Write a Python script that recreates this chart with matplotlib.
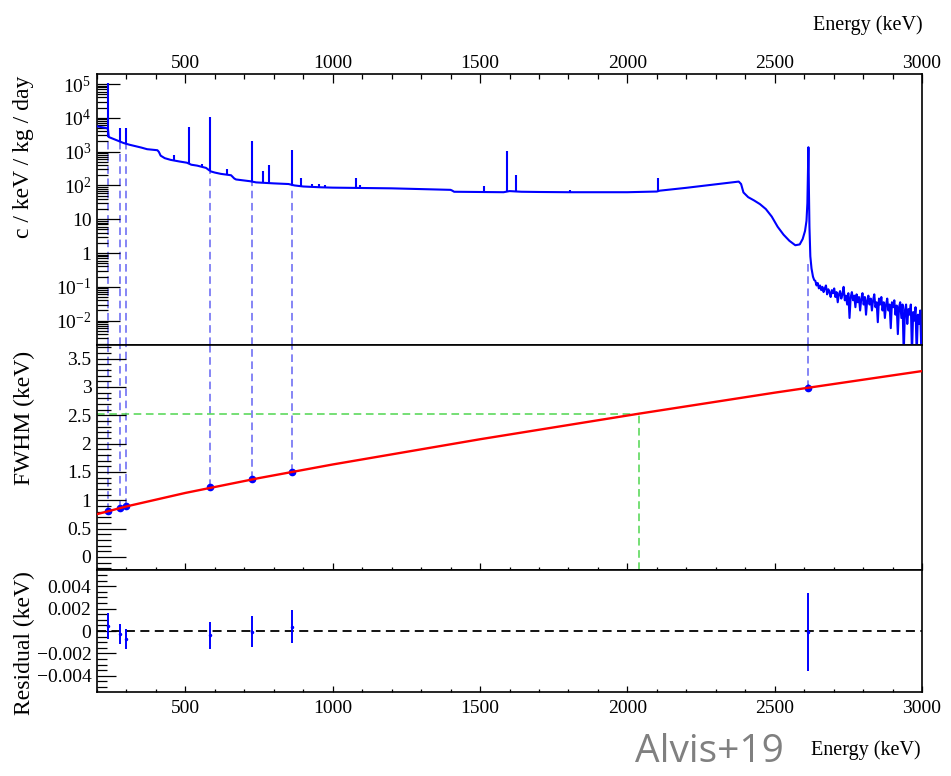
import numpy as np
import matplotlib
matplotlib.use("Agg")
import matplotlib.pyplot as plt
from matplotlib.ticker import (FixedLocator, FixedFormatter, MultipleLocator,
                               LogLocator, NullFormatter)

plt.rcParams['font.family'] = ['Liberation Serif', 'DejaVu Serif']
plt.rcParams['mathtext.fontset'] = 'custom'
plt.rcParams['mathtext.rm'] = 'Liberation Serif'
plt.rcParams['mathtext.it'] = 'Liberation Serif:italic'
plt.rcParams['mathtext.bf'] = 'Liberation Serif:bold'

# ---------------- spectrum (c / keV / kg / day) ----------------
cont_energy = [200, 215, 230, 237, 240, 260, 275, 290, 310, 330, 350, 370, 390,
               405, 410, 416, 430, 450, 480, 505, 520, 540, 570, 586, 600, 620,
               655, 666, 672, 700, 720, 740, 800, 850, 870, 900, 960, 1000,
               1050, 1100, 1200, 1300, 1400, 1406, 1412, 1500, 1580, 1600,
               1640, 1700, 1800, 2000, 2100, 2110, 2200, 2300, 2360, 2378,
               2386, 2394, 2410, 2430, 2450, 2470, 2490, 2510, 2530, 2550,
               2570, 2585, 2595, 2603, 2608, 2611, 2613, 2614.5, 2616, 2618,
               2621, 2625]
cont_rate = [5600, 5300, 5000, 4800, 2700, 2300, 2050, 1800, 1600, 1450, 1320,
             1180, 1130, 1100, 980, 760, 640, 570, 510, 470, 410, 385, 330,
             260, 240, 220, 200, 160, 150, 140, 133, 123, 115, 110, 100, 93,
             88, 86, 85, 84, 82, 78, 74, 70, 65, 64, 63, 68, 65, 64, 63, 63,
             66, 70, 85, 108, 124, 130, 110, 62, 45, 36, 28, 20, 12, 6, 3.5,
             2.3, 1.7, 1.8, 2.6, 4.5, 9, 30, 300, 1350, 100, 6, 0.8, 0.35]

# high-energy tail above the 2614.5 keV line, 4 keV bins starting at 2630 keV
tail_start = 2630
tail_bin = 4
tail_rate = [0.20, 0.16, 0.15, 0.11, 0.13, 0.09, 0.11, 0.08, 0.10, 0.07,
             0.09, 0.11, 0.06, 0.085, 0.07, 0.05, 0.08, 0.065, 0.09, 0.05,
             0.07, 0.035, 0.06, 0.075, 0.045, 0.06, 0.10, 0.04, 0.055, 0.03,
             0.065, 0.012, 0.05, 0.07, 0.04, 0.055, 0.025, 0.06, 0.035, 0.05,
             0.02, 0.045, 0.065, 0.03, 0.05, 0.015, 0.04, 0.055, 0.03, 0.045,
             0.02, 0.04, 0.06, 0.025, 0.035, 0.009, 0.045, 0.03, 0.05, 0.02,
             0.035, 0.012, 0.03, 0.045, 0.02, 0.03, 0.006, 0.035, 0.025, 0.04,
             0.015, 0.028, 0.004, 0.025, 0.035, 0.012, 0.03, 0.001, 0.02,
             0.03, 0.008, 0.022, 0.015, 0.03, 0.001, 0.018, 0.01, 0.025,
             0.001, 0.015, 0.008, 0.02, 0.001]

# narrow gamma lines drawn as spikes on the continuum
peak_energy = [238.6, 277.4, 300.1, 463.0, 511.0, 555.0, 583.2, 640.0, 727.3,
               763.1, 785.4, 860.6, 893.4, 930.0, 952.1, 975.0, 1078.6,
               1093.9, 1512.7, 1592.5, 1620.5, 1806.0, 2103.5]
peak_top = [1.05e5, 5000, 5000, 800, 5400, 420, 10700, 310, 2100, 270, 400,
            1120, 170, 110, 110, 100, 170, 105, 95, 1050, 210, 72, 170]
peak_base = [2700, 2000, 1700, 540, 460, 360, 260, 200, 133, 120, 118, 108,
             95, 90, 88, 87, 85, 84, 64, 63, 66, 63, 68]

# ---------------- calibration peaks ----------------
cal_energy = [238.6, 277.4, 300.1, 583.2, 727.3, 860.6, 2614.5]
cal_spec_level = [2700, 2000, 1700, 250, 130, 105, 0.5]
cal_fwhm = [0.81, 0.86, 0.90, 1.23, 1.37, 1.50, 2.99]
cal_fwhm_err = [0.02, 0.02, 0.02, 0.02, 0.02, 0.03, 0.06]

# resolution curve
fit_energy = [200, 300, 500, 750, 1000, 1500, 2039, 2500, 3000]
fit_fwhm = [0.755, 0.892, 1.130, 1.392, 1.632, 2.077, 2.528, 2.899, 3.28]
qbb_energy = 2039
qbb_fwhm = 2.528

# fit residuals
resid = [0.00045, -0.0003, -0.0007, -0.0004, -0.00005, 0.0004, -0.0001]
resid_err = [0.0012, 0.0009, 0.0009, 0.00123, 0.0014, 0.0015, 0.0035]

# ---------------- axes ranges / tick labels ----------------
E_MIN, E_MAX = 200, 3000
SPEC_LO, SPEC_HI = 10 ** -2.72, 10 ** 5.296
FWHM_LO, FWHM_HI = -0.23, 3.74
RES_LO, RES_HI = -0.00545, 0.00545
energy_ticks = [500, 1000, 1500, 2000, 2500, 3000]
spec_ticks = [1e-2, 1e-1, 1, 10, 1e2, 1e3, 1e4, 1e5]
spec_labels = ['$10^{-2}$', '$10^{-1}$', '1', '10', '$10^{2}$', '$10^{3}$',
               '$10^{4}$', '$10^{5}$']
fwhm_ticks = [0, 0.5, 1, 1.5, 2, 2.5, 3, 3.5]
fwhm_labels = ['0', '0.5', '1', '1.5', '2', '2.5', '3', '3.5']
res_ticks = [-0.004, -0.002, 0, 0.002, 0.004]
res_labels = ['\u22120.004', '\u22120.002', '0', '0.002', '0.004']

BLUE = '#0000ff'
DASH_BLUE = '#6565f2'
GREEN = '#4fd64f'
RED = '#ff0000'
TICK_FS = 14
TITLE_FS = 17

W, H = 951, 776
fig = plt.figure(figsize=(W / 100, H / 100), dpi=100)
fig.patch.set_facecolor('white')

def frac(x0, y0, x1, y1):
    return [x0 / W, 1 - y1 / H, (x1 - x0) / W, (y1 - y0) / H]

ax_s = fig.add_axes(frac(97, 74, 922, 345))
ax_f = fig.add_axes(frac(97, 345, 922, 570))
ax_r = fig.add_axes(frac(97, 570, 922, 692))

for ax in (ax_s, ax_f, ax_r):
    ax.set_xlim(E_MIN, E_MAX)
    for sp in ax.spines.values():
        sp.set_linewidth(1.2)
    ax.xaxis.set_major_locator(FixedLocator(energy_ticks))
    ax.xaxis.set_minor_locator(MultipleLocator(100))

# ---- spectrum panel ----
tail_energy = tail_start + tail_bin * np.arange(len(tail_rate))
spec_E = np.concatenate([cont_energy, tail_energy])
spec_R = np.concatenate([cont_rate, tail_rate])
ax_s.set_yscale('log')
ax_s.set_ylim(SPEC_LO, SPEC_HI)
ax_s.vlines(cal_energy, SPEC_LO, cal_spec_level, colors=DASH_BLUE, lw=1.1,
            linestyles=(0, (5, 3)), zorder=1)
ax_s.plot(spec_E, spec_R, color=BLUE, lw=1.5, zorder=3)
ax_s.vlines(peak_energy, peak_base, peak_top, colors=BLUE, lw=1.5, zorder=3)
ax_s.yaxis.set_major_locator(FixedLocator(spec_ticks))
ax_s.yaxis.set_major_formatter(FixedFormatter(spec_labels))
ax_s.yaxis.set_minor_locator(LogLocator(base=10, subs=np.arange(2, 10), numticks=50))
ax_s.yaxis.set_minor_formatter(NullFormatter())
ax_s.tick_params(axis='x', which='both', direction='in', top=True, bottom=False,
                 labeltop=True, labelbottom=False, labelsize=TICK_FS, pad=1.5)
ax_s.tick_params(axis='x', which='major', length=6.5, width=0.9)
ax_s.tick_params(axis='x', which='minor', length=3.5, width=0.9)
ax_s.tick_params(axis='y', which='both', direction='in', left=True, right=False,
                 labelsize=TICK_FS, pad=4)
ax_s.tick_params(axis='y', which='major', length=16.5, width=0.9)
ax_s.tick_params(axis='y', which='minor', length=8, width=0.9)

# ---- FWHM panel ----
ax_f.set_ylim(FWHM_LO, FWHM_HI)
ax_f.vlines(cal_energy, cal_fwhm, FWHM_HI, colors=DASH_BLUE, lw=1.1,
            linestyles=(0, (5, 3)), zorder=1)
ax_f.plot([E_MIN, qbb_energy], [qbb_fwhm, qbb_fwhm], color=GREEN, lw=1.1,
          ls=(0, (5, 3)), zorder=1)
ax_f.plot([qbb_energy, qbb_energy], [FWHM_LO, qbb_fwhm], color=GREEN, lw=1.1,
          ls=(0, (5, 3)), zorder=1)
ax_f.errorbar(cal_energy, cal_fwhm, yerr=cal_fwhm_err, fmt='o', color=BLUE,
              ms=4.5, elinewidth=1.0, capsize=0, zorder=3)
ax_f.plot(fit_energy, fit_fwhm, color=RED, lw=1.7, zorder=4)
ax_f.yaxis.set_major_locator(FixedLocator(fwhm_ticks))
ax_f.yaxis.set_major_formatter(FixedFormatter(fwhm_labels))
ax_f.yaxis.set_minor_locator(MultipleLocator(0.1))
ax_f.tick_params(axis='x', which='both', direction='in', top=False, bottom=True,
                 labelbottom=False, labeltop=False)
ax_f.tick_params(axis='x', which='major', length=5, width=0.9)
ax_f.tick_params(axis='x', which='minor', length=2.5, width=0.9)
ax_f.tick_params(axis='y', which='both', direction='in', left=True, right=False,
                 labelsize=TICK_FS, pad=4)
ax_f.tick_params(axis='y', which='major', length=21, width=0.9)
ax_f.tick_params(axis='y', which='minor', length=10, width=0.9)

# ---- residual panel ----
ax_r.set_ylim(RES_LO, RES_HI)
ax_r.axhline(0, color='black', lw=1.3, ls=(0, (5, 3)), zorder=1)
ax_r.errorbar(cal_energy, resid, yerr=resid_err, fmt='o', color=BLUE, ms=1.5,
              elinewidth=1.4, capsize=0, zorder=3)
ax_r.yaxis.set_major_locator(FixedLocator(res_ticks))
ax_r.yaxis.set_major_formatter(FixedFormatter(res_labels))
ax_r.yaxis.set_minor_locator(MultipleLocator(0.0005))
ax_r.tick_params(axis='x', which='both', direction='in', top=False, bottom=True,
                 labelbottom=True, labelsize=TICK_FS, pad=6)
ax_r.tick_params(axis='x', which='major', length=4.5, width=0.9)
ax_r.tick_params(axis='x', which='minor', length=2.2, width=0.9)
ax_r.tick_params(axis='y', which='both', direction='in', left=True, right=False,
                 labelsize=TICK_FS, pad=4)
ax_r.tick_params(axis='y', which='major', length=14, width=0.9)
ax_r.tick_params(axis='y', which='minor', length=7, width=0.9)

# ---- titles ----
fig.text(24 / W, 1 - 76 / H, 'c / keV / kg / day', rotation=90, ha='center',
         va='top', fontsize=TITLE_FS)
fig.text(24 / W, 1 - 351 / H, 'FWHM (keV)', rotation=90, ha='center',
         va='top', fontsize=TITLE_FS)
fig.text(24 / W, 1 - 571 / H, 'Residual (keV)', rotation=90, ha='center',
         va='top', fontsize=TITLE_FS)
fig.text(923 / W, 1 - 25 / H, 'Energy (keV)', ha='right', va='center',
         fontsize=14.5)
fig.text(921 / W, 1 - 750 / H, 'Energy (keV)', ha='right', va='center',
         fontsize=14.5)
fig.text(709 / W, 1 - 752 / H, 'Alvis+19', ha='center', va='center',
         fontsize=28, color='#808080', family=['Open Sans', 'DejaVu Sans'])

fig.savefig('out.png', dpi=100, facecolor='white')
